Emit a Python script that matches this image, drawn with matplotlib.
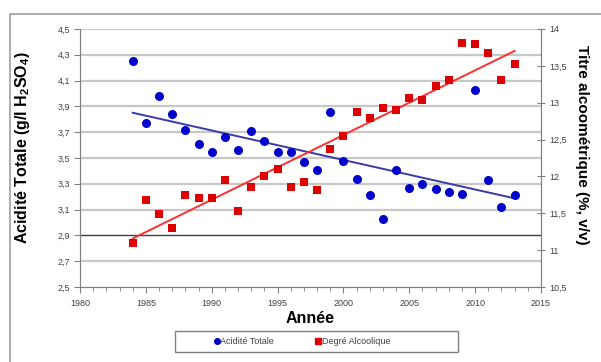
import numpy as np
import matplotlib
matplotlib.use("Agg")
import matplotlib.pyplot as plt
from matplotlib.patches import Rectangle
from matplotlib.lines import Line2D

plt.rcParams['font.family'] = ['Liberation Sans', 'DejaVu Sans']
plt.rcParams['mathtext.fontset'] = 'custom'
plt.rcParams['mathtext.rm'] = 'Liberation Sans'
plt.rcParams['mathtext.bf'] = 'Liberation Sans:bold'

years = list(range(1984, 2014))
acidite = [4.25, 3.77, 3.98, 3.84, 3.72, 3.61, 3.55, 3.66, 3.56, 3.71, 3.63, 3.55,
           3.55, 3.47, 3.41, 3.86, 3.48, 3.34, 3.21, 3.03, 3.41, 3.27, 3.30, 3.26,
           3.24, 3.22, 4.03, 3.33, 3.12, 3.21]
degre = [11.10, 11.68, 11.49, 11.30, 11.75, 11.71, 11.71, 11.95, 11.53, 11.85, 12.00, 12.10,
         11.85, 11.92, 11.81, 12.37, 12.55, 12.88, 12.79, 12.93, 12.90, 13.06, 13.04, 13.22,
         13.31, 13.81, 13.79, 13.68, 13.31, 13.53]

left_ticks = [2.5, 2.7, 2.9, 3.1, 3.3, 3.5, 3.7, 3.9, 4.1, 4.3, 4.5]
right_ticks = [10.5, 11, 11.5, 12, 12.5, 13, 13.5, 14]
x_ticks = [1980, 1985, 1990, 1995, 2000, 2005, 2010, 2015]

def fr(v):
    s = ('%g' % v)
    return s.replace('.', ',')

fig = plt.figure(figsize=(6.01, 3.62), dpi=100)
W, H = 601, 362
ax = fig.add_axes([80 / W, 1 - 287 / H, 461 / W, 258 / H])
ax2 = ax.twinx()

# outer chart frame
fig.patches.append(Rectangle((10 / W, -0.05), 1.0, 1 - 14 / H + 0.05, transform=fig.transFigure,
                             fill=False, edgecolor='#a0a0a0', linewidth=1.2))

ax.set_xlim(1980, 2015)
ax.set_ylim(2.5, 4.5)
ax2.set_ylim(10.5, 14)

# gridlines
for t in left_ticks[1:]:
    c = '#404040' if abs(t - 2.9) < 1e-6 else '#c8c8c8'
    lw = 1.0 if abs(t - 2.9) < 1e-6 else 1.6
    ax.axhline(t, color=c, linewidth=lw, zorder=1)

yrs = np.array(years, dtype=float)
a = np.array(acidite)
d = np.array(degre)
pa = np.polyfit(yrs, a, 1)
pd_ = np.polyfit(yrs, d, 1)
xl = np.array([years[0], years[-1]], dtype=float)

ax.plot(xl, np.polyval(pa, xl), color='#3a3aa8', linewidth=1.4, zorder=3)
ax.plot(yrs, a, 'o', color='#0000cc', markersize=6.5, markeredgewidth=0, zorder=4)
ax2.plot(xl, np.polyval(pd_, xl), color='#ff3030', linewidth=1.4, zorder=3)
ax2.plot(yrs, d, 's', color='#dd0000', markersize=6, markeredgewidth=0, zorder=4)

for s in ['top']:
    ax.spines[s].set_visible(False)
    ax2.spines[s].set_visible(False)
for s in ['left', 'right', 'bottom']:
    ax.spines[s].set_color('#808080')
    ax2.spines[s].set_color('#808080')

ax.set_yticks(left_ticks)
ax.set_yticklabels([fr(t) for t in left_ticks])
ax2.set_yticks(right_ticks)
ax2.set_yticklabels([fr(t) for t in right_ticks])
ax.set_xticks(x_ticks)
ax.set_xticklabels([str(t) for t in x_ticks])
ax.set_xticks(range(1980, 2016), minor=True)

ax.tick_params(axis='y', labelsize=6.5, colors='#808080', labelcolor='#404040', length=4, pad=3)
ax2.tick_params(axis='y', labelsize=6.5, colors='#808080', labelcolor='#404040', length=6,
                direction='inout', pad=3)
ax.tick_params(axis='x', which='major', labelsize=6.5, colors='#808080', labelcolor='#404040',
               length=4, pad=5)
ax.tick_params(axis='x', which='minor', colors='#808080', length=3)

ax.set_xlabel('Année', fontsize=11.5, fontweight='bold', labelpad=2)
ax.set_ylabel(r'Acidité Totale (g/l $\mathbf{H_2SO_4}$)', fontsize=11.5, fontweight='bold')
ax.yaxis.set_label_coords(-0.104, 0.541)
ax2.set_ylabel('Titre alcoométrique (%, v/v)', fontsize=11, fontweight='bold', rotation=270,
               va='center')
ax2.yaxis.set_label_coords(1.09, 0.55)

# legend box
fig.patches.append(Rectangle((175 / W, 1 - 352 / H), 283 / W, 21 / H, transform=fig.transFigure,
                             fill=True, facecolor='white', edgecolor='#808080', linewidth=1.0))
handles = [Line2D([], [], marker='o', color='#0000cc', linestyle='none', markersize=4),
           Line2D([], [], marker='s', color='#dd0000', linestyle='none', markersize=4)]
leg = fig.legend(handles, ['Acidité Totale', 'Degré Alcoolique'], loc='center left',
                 bbox_to_anchor=(214 / W, 1 - 341.5 / H), ncol=2, fontsize=6.5,
                 frameon=False, handletextpad=0.1,
                 columnspacing=4.6, handlelength=0.6, borderpad=0.0, borderaxespad=0)
for t in leg.get_texts():
    t.set_color('#404040')

fig.savefig('out.png', dpi=100)
